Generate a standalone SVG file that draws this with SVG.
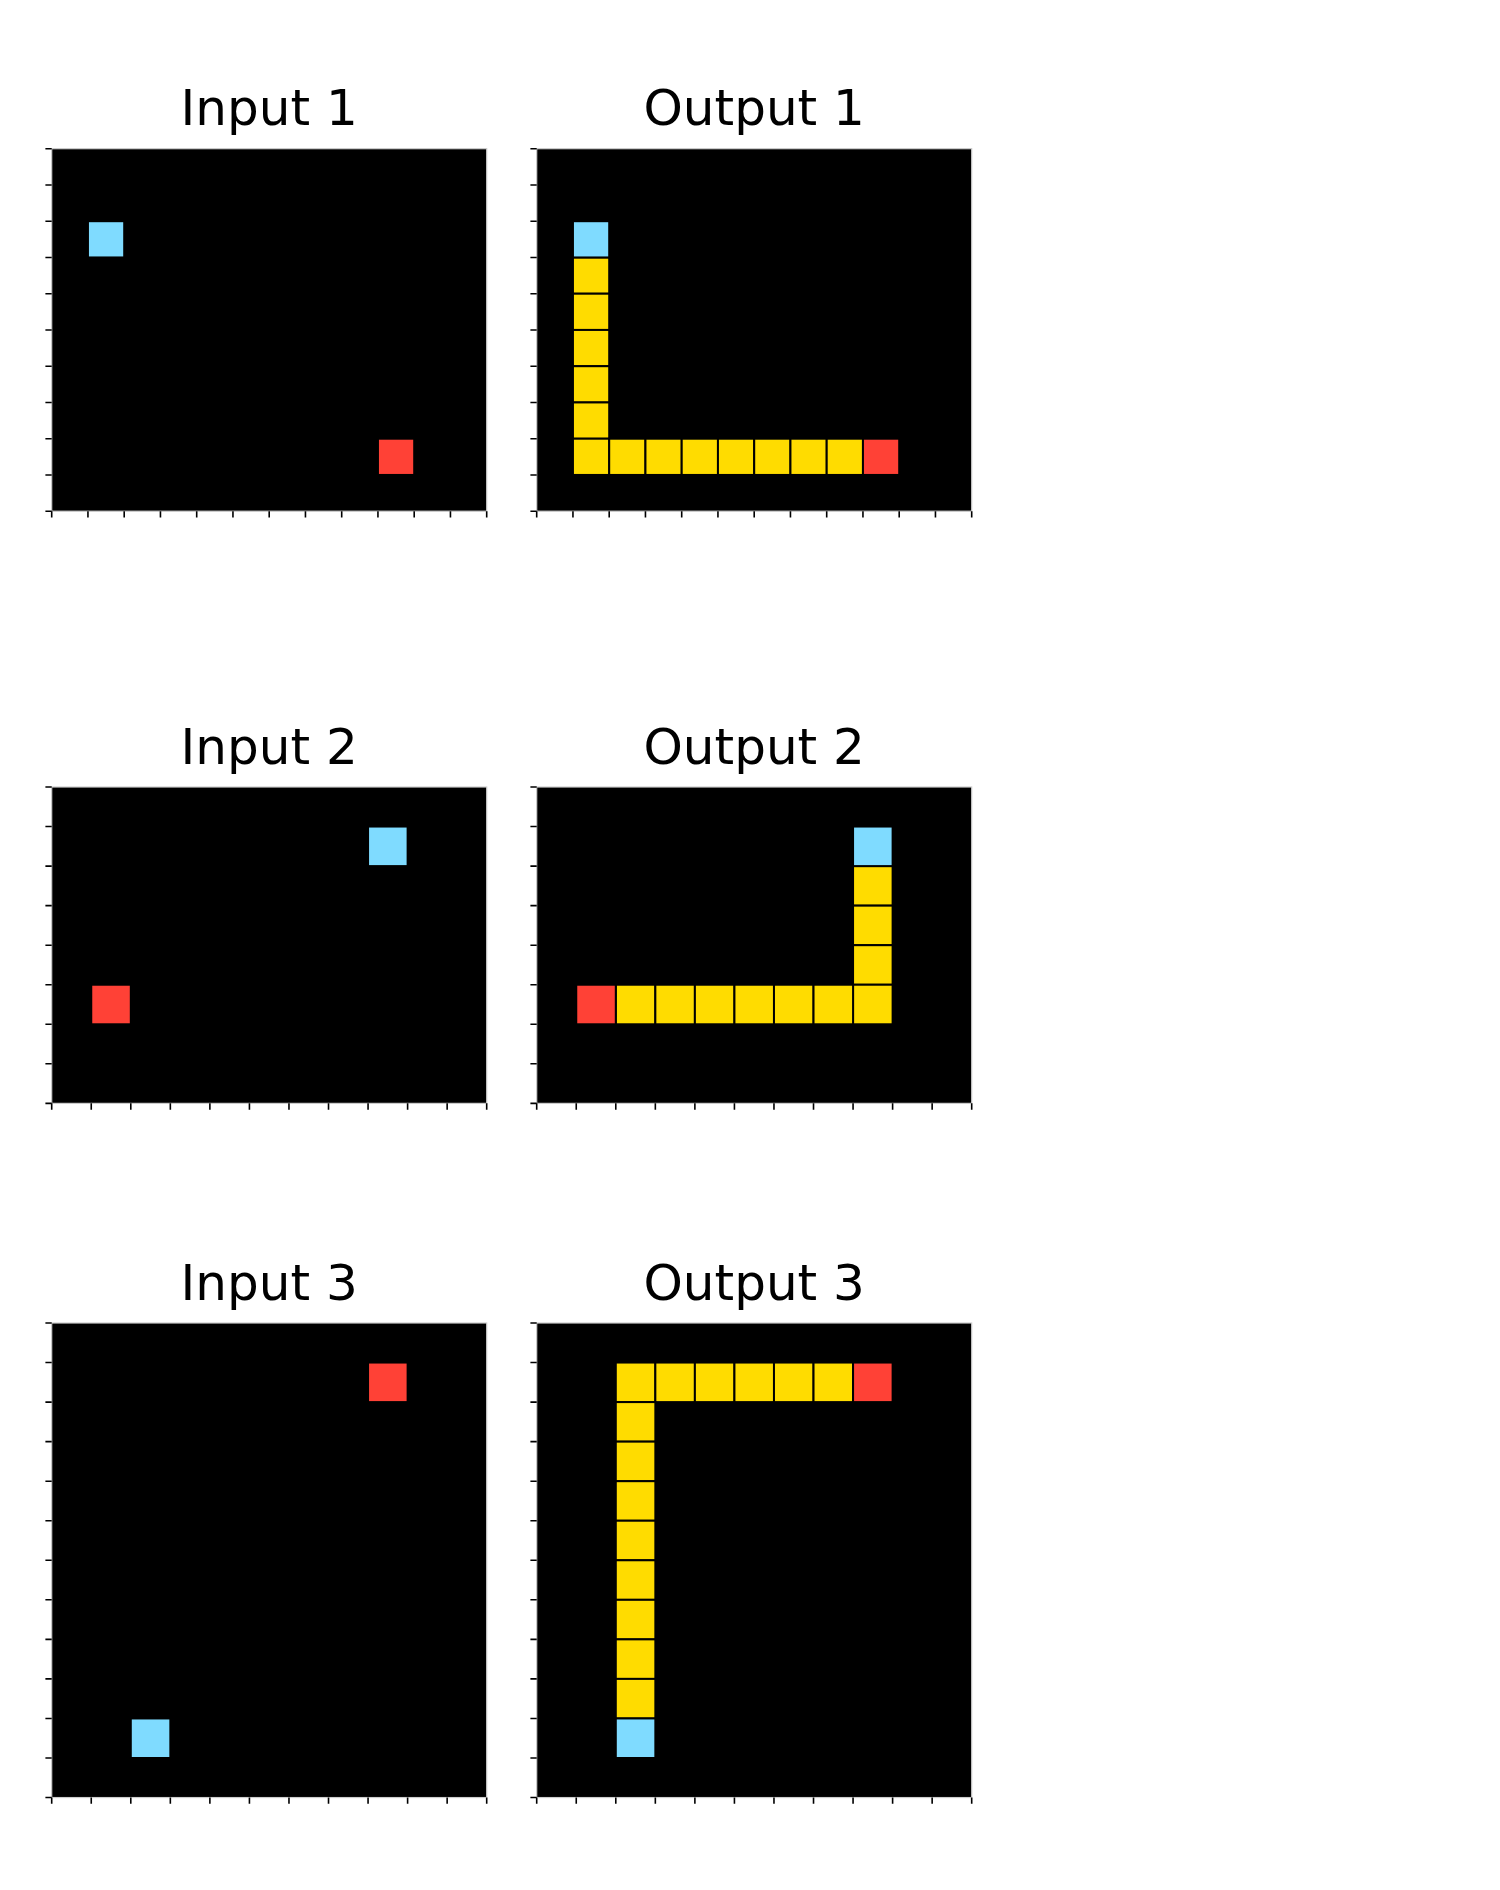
<svg xmlns="http://www.w3.org/2000/svg" xmlns:xlink="http://www.w3.org/1999/xlink" width="1500" height="1890" viewBox="0 0 1500 1890">
<style>
.title{font-family:"DejaVu Sans","Liberation Sans",sans-serif;font-size:50px;fill:#000;text-anchor:middle}
.bg{fill:#000;stroke:#cccccc;stroke-width:1.2}
.tk{fill:none;stroke:#000;stroke-width:1.6}
.cy{fill:#7FDBFF;stroke:#000;stroke-width:2}
.rd{fill:#FF4136;stroke:#000;stroke-width:2}
.yl{fill:#FFDC00;stroke:#000;stroke-width:2}
</style>
<defs>
<path id="ticks1" class="tk" d="M-6.3 0h6.3M-6.3 36.25h6.3M-6.3 72.5h6.3M-6.3 108.75h6.3M-6.3 145h6.3M-6.3 181.25h6.3M-6.3 217.5h6.3M-6.3 253.75h6.3M-6.3 290h6.3M-6.3 326.25h6.3M-6.3 362.5h6.3M0 362.5v6.3M36.25 362.5v6.3M72.5 362.5v6.3M108.75 362.5v6.3M145 362.5v6.3M181.25 362.5v6.3M217.5 362.5v6.3M253.75 362.5v6.3M290 362.5v6.3M326.25 362.5v6.3M362.5 362.5v6.3M398.75 362.5v6.3M435 362.5v6.3"/>
<path id="ticks2" class="tk" d="M-6.3 0h6.3M-6.3 39.55h6.3M-6.3 79.09h6.3M-6.3 118.64h6.3M-6.3 158.18h6.3M-6.3 197.73h6.3M-6.3 237.27h6.3M-6.3 276.82h6.3M-6.3 316.36h6.3M0 316.36v6.3M39.55 316.36v6.3M79.09 316.36v6.3M118.64 316.36v6.3M158.18 316.36v6.3M197.73 316.36v6.3M237.27 316.36v6.3M276.82 316.36v6.3M316.36 316.36v6.3M355.91 316.36v6.3M395.45 316.36v6.3M435 316.36v6.3"/>
<path id="ticks3" class="tk" d="M-6.3 0h6.3M-6.3 39.55h6.3M-6.3 79.09h6.3M-6.3 118.64h6.3M-6.3 158.18h6.3M-6.3 197.73h6.3M-6.3 237.27h6.3M-6.3 276.82h6.3M-6.3 316.36h6.3M-6.3 355.91h6.3M-6.3 395.45h6.3M-6.3 435h6.3M-6.3 474.55h6.3M0 474.55v6.3M39.55 474.55v6.3M79.09 474.55v6.3M118.64 474.55v6.3M158.18 474.55v6.3M197.73 474.55v6.3M237.27 474.55v6.3M276.82 474.55v6.3M316.36 474.55v6.3M355.91 474.55v6.3M395.45 474.55v6.3M435 474.55v6.3"/>
</defs>
<rect width="1500" height="1890" fill="#fff"/>

<g id="input1">
<text class="title" x="269.2" y="125.4">Input 1</text>
<g transform="translate(51.7,148.7)">
<rect class="bg" width="435" height="362.5"/>
<rect class="cy" x="36.25" y="72.5" width="36.25" height="36.25"/>
<rect class="rd" x="326.25" y="290" width="36.25" height="36.25"/>
<use xlink:href="#ticks1"/>
</g>
</g>

<g id="output1">
<text class="title" x="754.2" y="125.4">Output 1</text>
<g transform="translate(536.7,148.7)">
<rect class="bg" width="435" height="362.5"/>
<rect class="yl" x="36.25" y="108.75" width="36.25" height="36.25"/>
<rect class="yl" x="36.25" y="145" width="36.25" height="36.25"/>
<rect class="yl" x="36.25" y="181.25" width="36.25" height="36.25"/>
<rect class="yl" x="36.25" y="217.5" width="36.25" height="36.25"/>
<rect class="yl" x="36.25" y="253.75" width="36.25" height="36.25"/>
<rect class="yl" x="36.25" y="290" width="36.25" height="36.25"/>
<rect class="yl" x="72.5" y="290" width="36.25" height="36.25"/>
<rect class="yl" x="108.75" y="290" width="36.25" height="36.25"/>
<rect class="yl" x="145" y="290" width="36.25" height="36.25"/>
<rect class="yl" x="181.25" y="290" width="36.25" height="36.25"/>
<rect class="yl" x="217.5" y="290" width="36.25" height="36.25"/>
<rect class="yl" x="253.75" y="290" width="36.25" height="36.25"/>
<rect class="yl" x="290" y="290" width="36.25" height="36.25"/>
<rect class="cy" x="36.25" y="72.5" width="36.25" height="36.25"/>
<rect class="rd" x="326.25" y="290" width="36.25" height="36.25"/>
<use xlink:href="#ticks1"/>
</g>
</g>

<g id="input2">
<text class="title" x="269.2" y="763.7">Input 2</text>
<g transform="translate(51.7,787)">
<rect class="bg" width="435" height="316.36"/>
<rect class="cy" x="316.36" y="39.55" width="39.55" height="39.55"/>
<rect class="rd" x="39.55" y="197.73" width="39.55" height="39.55"/>
<use xlink:href="#ticks2"/>
</g>
</g>

<g id="output2">
<text class="title" x="754.2" y="763.7">Output 2</text>
<g transform="translate(536.7,787)">
<rect class="bg" width="435" height="316.36"/>
<rect class="yl" x="316.36" y="79.09" width="39.55" height="39.55"/>
<rect class="yl" x="316.36" y="118.64" width="39.55" height="39.55"/>
<rect class="yl" x="316.36" y="158.18" width="39.55" height="39.55"/>
<rect class="yl" x="316.36" y="197.73" width="39.55" height="39.55"/>
<rect class="yl" x="79.09" y="197.73" width="39.55" height="39.55"/>
<rect class="yl" x="118.64" y="197.73" width="39.55" height="39.55"/>
<rect class="yl" x="158.18" y="197.73" width="39.55" height="39.55"/>
<rect class="yl" x="197.73" y="197.73" width="39.55" height="39.55"/>
<rect class="yl" x="237.27" y="197.73" width="39.55" height="39.55"/>
<rect class="yl" x="276.82" y="197.73" width="39.55" height="39.55"/>
<rect class="cy" x="316.36" y="39.55" width="39.55" height="39.55"/>
<rect class="rd" x="39.55" y="197.73" width="39.55" height="39.55"/>
<use xlink:href="#ticks2"/>
</g>
</g>

<g id="input3">
<text class="title" x="269.2" y="1299.7">Input 3</text>
<g transform="translate(51.7,1323)">
<rect class="bg" width="435" height="474.55"/>
<rect class="rd" x="316.36" y="39.55" width="39.55" height="39.55"/>
<rect class="cy" x="79.09" y="395.45" width="39.55" height="39.55"/>
<use xlink:href="#ticks3"/>
</g>
</g>

<g id="output3">
<text class="title" x="754.2" y="1299.7">Output 3</text>
<g transform="translate(536.7,1323)">
<rect class="bg" width="435" height="474.55"/>
<rect class="yl" x="79.09" y="39.55" width="39.55" height="39.55"/>
<rect class="yl" x="118.64" y="39.55" width="39.55" height="39.55"/>
<rect class="yl" x="158.18" y="39.55" width="39.55" height="39.55"/>
<rect class="yl" x="197.73" y="39.55" width="39.55" height="39.55"/>
<rect class="yl" x="237.27" y="39.55" width="39.55" height="39.55"/>
<rect class="yl" x="276.82" y="39.55" width="39.55" height="39.55"/>
<rect class="yl" x="79.09" y="79.09" width="39.55" height="39.55"/>
<rect class="yl" x="79.09" y="118.64" width="39.55" height="39.55"/>
<rect class="yl" x="79.09" y="158.18" width="39.55" height="39.55"/>
<rect class="yl" x="79.09" y="197.73" width="39.55" height="39.55"/>
<rect class="yl" x="79.09" y="237.27" width="39.55" height="39.55"/>
<rect class="yl" x="79.09" y="276.82" width="39.55" height="39.55"/>
<rect class="yl" x="79.09" y="316.36" width="39.55" height="39.55"/>
<rect class="yl" x="79.09" y="355.91" width="39.55" height="39.55"/>
<rect class="rd" x="316.36" y="39.55" width="39.55" height="39.55"/>
<rect class="cy" x="79.09" y="395.45" width="39.55" height="39.55"/>
<use xlink:href="#ticks3"/>
</g>
</g>

<g id="connectors"/>
</svg>
